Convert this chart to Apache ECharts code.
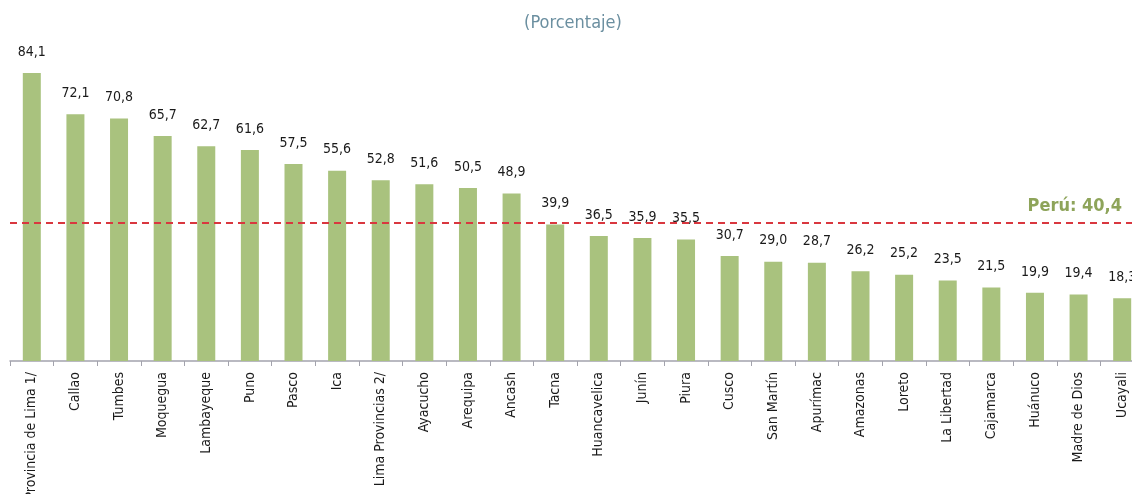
<!DOCTYPE html>
<html><head><meta charset="utf-8">
<script src="https://cdn.jsdelivr.net/npm/echarts@6/dist/echarts.min.js"></script>
<style>html,body{margin:0;padding:0;background:#fff}#c{width:1132px;height:494px}</style>
</head><body><div id="c"></div>
<script>
const categories = ["Provincia de Lima 1/","Callao","Tumbes","Moquegua","Lambayeque","Puno","Pasco","Ica","Lima Provincias 2/","Ayacucho","Arequipa","Ancash","Tacna","Huancavelica","Junín","Piura","Cusco","San Martín","Apurímac","Amazonas","Loreto","La Libertad","Cajamarca","Huánuco","Madre de Dios","Ucayali"];
const values = [84.1,72.1,70.8,65.7,62.7,61.6,57.5,55.6,52.8,51.6,50.5,48.9,39.9,36.5,35.9,35.5,30.7,29.0,28.7,26.2,25.2,23.5,21.5,19.9,19.4,18.3];
const nationalValue = 40.4;
const nationalLabel = "Perú";
const subtitle = "(Porcentaje)";

const FONT = "'DejaVu Sans Condensed','Liberation Sans',sans-serif";
const fmt = v => v.toFixed(1).replace('.', ',');
const chart = echarts.init(document.getElementById('c'), null, {renderer:'canvas'});
chart.setOption({
  animation:false,
  title:{text:subtitle,left:568,textAlign:'center',top:9,
    textStyle:{fontFamily:FONT,fontSize:18,fontWeight:'normal',color:'#6b8fa0'}},
  grid:{left:10,width:1134,top:18.6,height:342.4,containLabel:false,outerBoundsMode:'none'},
  xAxis:{type:'category',data:categories,
    axisLine:{lineStyle:{color:'#a3a3ad',width:1.5}},
    axisTick:{show:true,alignWithLabel:false,length:5,lineStyle:{color:'#a3a3ad'}},
    axisLabel:{rotate:90,interval:0,margin:11,color:'#1a1a1a',fontFamily:FONT,fontSize:14}},
  yAxis:{type:'value',min:0,max:100,show:false,splitLine:{show:false}},
  series:[{type:'bar',data:values,barWidth:18,
    itemStyle:{color:'#a9c27e'},
    label:{show:true,position:'top',distance:14,color:'#1a1a1a',fontFamily:FONT,fontSize:14,
      formatter:p=>fmt(p.value)},
    markLine:{symbol:'none',silent:true,
      lineStyle:{color:'#d9373f',type:[7,5],width:2.2},
      label:{show:true,position:'insideEndTop',distance:[22,7],
        formatter:nationalLabel+': '+fmt(nationalValue),
        fontFamily:FONT,fontSize:18,fontWeight:'bold',color:'#8ea45a'},
      data:[{yAxis:nationalValue}]}
  }]
});
</script></body></html>
